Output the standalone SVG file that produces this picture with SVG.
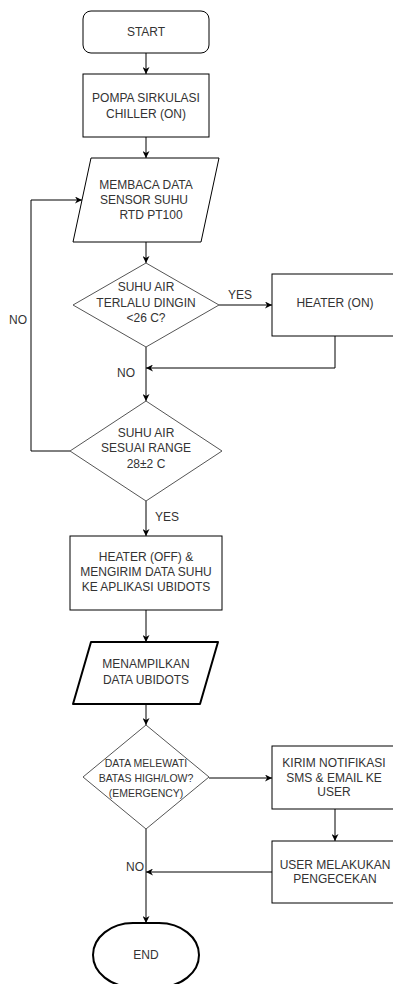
<svg xmlns="http://www.w3.org/2000/svg" width="393" height="984" viewBox="0 0 393 984">
<style>
.n{fill:#fff;stroke:#000;stroke-width:1}
.d{fill:#fff;stroke:#555;stroke-width:1}
.b{fill:#fff;stroke:#000;stroke-width:2}
text{font-family:"Liberation Sans",Arial,sans-serif;font-size:12px;fill:#333;text-anchor:middle}
.s{font-size:10.5px}
.c{fill:none;stroke:#000;stroke-width:1}
</style>
<defs>
<marker id="a" viewBox="0 0 10 10" refX="10" refY="5" markerWidth="7" markerHeight="7" orient="auto" markerUnits="userSpaceOnUse"><path d="M0,0 L10,5 L0,10 L3,5 Z" fill="#000"/></marker>
</defs>
<g id="connectors">
<path class="c" d="M146,53 V74" marker-end="url(#a)"/>
<path class="c" d="M146,137 V158" marker-end="url(#a)"/>
<path class="c" d="M146,242 V263" marker-end="url(#a)"/>
<path class="c" d="M219,305 H272" marker-end="url(#a)"/>
<path class="c" d="M335,336 V368 H146" marker-end="url(#a)"/>
<path class="c" d="M146,347 V401" marker-end="url(#a)"/>
<path class="c" d="M70,451 H31 V200 H82" marker-end="url(#a)"/>
<path class="c" d="M146,501 V536" marker-end="url(#a)"/>
<path class="c" d="M146,610 V642" marker-end="url(#a)"/>
<path class="c" d="M146,704 V725" marker-end="url(#a)"/>
<path class="c" d="M209,778 H272" marker-end="url(#a)"/>
<path class="c" d="M335,809 V841" marker-end="url(#a)"/>
<path class="c" d="M272,872 H146" marker-end="url(#a)"/>
<path class="c" d="M146,829 V923" marker-end="url(#a)"/>
<text x="240" y="299">YES</text>
<text x="126" y="377">NO</text>
<text x="18" y="324">NO</text>
<text x="167" y="521">YES</text>
<text x="135" y="871">NO</text>
</g>
<g id="start"><rect class="n" x="83" y="11" width="126" height="42" rx="8"/><text x="146" y="36">START</text></g>
<g id="pompa"><rect class="n" x="83" y="74" width="126" height="63"/><text x="146" y="102">POMPA SIRKULASI</text><text x="146" y="118">CHILLER (ON)</text></g>
<g id="membaca"><path class="n" d="M91,158 H219 L201,242 H73 Z"/><text x="146" y="189">MEMBACA DATA</text><text x="144" y="204">SENSOR SUHU</text><text x="151" y="219">RTD PT100</text></g>
<g id="dingin"><path class="d" d="M146,263 L219,305 L146,347 L73,305 Z"/><text x="146" y="291">SUHU AIR</text><text x="146" y="307">TERLALU DINGIN</text><text x="146" y="322">&lt;26 C?</text></g>
<g id="heater-on"><rect class="n" x="272" y="274" width="126" height="62"/><text x="335" y="307">HEATER (ON)</text></g>
<g id="range"><path class="d" d="M146,401 L222,451 L146,501 L70,451 Z"/><text x="146" y="437">SUHU AIR</text><text x="146" y="452">SESUAI RANGE</text><text x="146" y="468">28±2 C</text></g>
<g id="heater-off"><rect class="n" x="70" y="536" width="152" height="74"/><text x="146" y="561">HEATER (OFF) &amp;</text><text x="146" y="576">MENGIRIM DATA SUHU</text><text x="146" y="591">KE APLIKASI UBIDOTS</text></g>
<g id="menampilkan"><path class="b" stroke-linejoin="round" d="M91,642 H218 L200,704 H73 Z"/><text x="146" y="668">MENAMPILKAN</text><text x="146" y="684">DATA UBIDOTS</text></g>
<g id="emergency"><path class="d" d="M146,725 L209,777 L146,829 L83,777 Z"/><text class="s" x="146" y="767">DATA MELEWATI</text><text class="s" x="146" y="782">BATAS HIGH/LOW?</text><text class="s" x="146" y="797">(EMERGENCY)</text></g>
<g id="kirim"><rect class="n" x="272" y="746" width="126" height="63"/><text x="334" y="767">KIRIM NOTIFIKASI</text><text x="334" y="782">SMS &amp; EMAIL KE</text><text x="334" y="796">USER</text></g>
<g id="cek"><rect class="n" x="272" y="841" width="126" height="62"/><text x="335" y="869">USER MELAKUKAN</text><text x="335" y="883">PENGECEKAN</text></g>
<g id="end"><rect class="b" x="93" y="923" width="106" height="64" rx="40" ry="32"/><text x="146" y="959">END</text></g>
</svg>
